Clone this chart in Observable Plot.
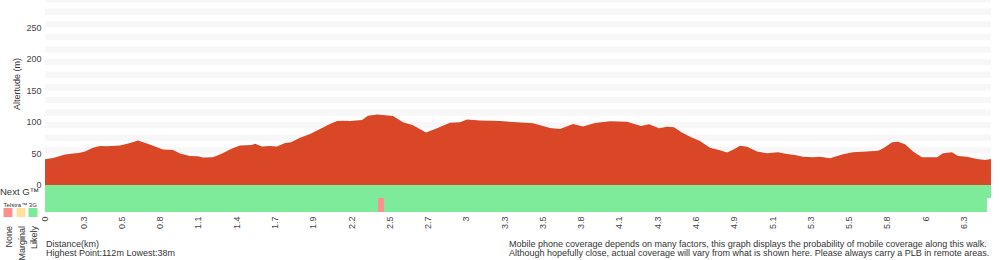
<!DOCTYPE html>
<html><head><meta charset="utf-8">
<script src="https://cdn.jsdelivr.net/npm/d3@7"></script>
<script src="https://cdn.jsdelivr.net/npm/@observablehq/plot@0.6"></script>
<style>
body{margin:0;background:#fff;}
#chart{width:1000px;height:260px;overflow:hidden}
</style></head><body><div id="chart"></div>
<script>
// Elevation profile (km, m)
const distKm = [0,0.055,0.138,0.242,0.277,0.332,0.381,0.429,0.519,0.589,0.644,0.706,0.762,0.817,0.886,0.935,1.004,1.059,1.094,1.163,1.226,1.295,1.350,1.433,1.454,1.502,1.558,1.606,1.662,1.703,1.766,1.835,1.904,1.973,2.022,2.063,2.112,2.195,2.236,2.299,2.340,2.410,2.479,2.548,2.638,2.714,2.804,2.873,2.922,3.012,3.150,3.268,3.379,3.497,3.566,3.656,3.725,3.808,3.912,4.030,4.127,4.182,4.251,4.307,4.355,4.404,4.466,4.535,4.604,4.673,4.722,4.764,4.812,4.861,4.930,4.999,5.075,5.138,5.193,5.248,5.318,5.366,5.435,5.525,5.594,5.691,5.768,5.802,5.865,5.906,5.955,6.010,6.072,6.176,6.218,6.280,6.321,6.384,6.453,6.508,6.550];
const elevM = [41,43,48.5,51,53,59,62,61.5,62.5,66.5,70.5,66,61,56.5,55.5,50,46,45.5,43.5,44,50,58,62.5,63.5,65.5,61,62,61,66.5,68,75,81,89,97,101.5,102,101.5,103,110,112,111,109.5,99.5,95,83.5,90,99,99.5,104,102.5,101.5,99.5,98,90.5,89,97,93,98.5,101,100.5,93.7,96.3,90,92.6,91.5,84,76.7,70,59.2,55,51.5,56,62.4,60.8,53,50.3,52,49.2,47.6,45,44,45,42.3,48.7,52,53,54.5,58,67.7,68.7,64.6,53,44,44,50.3,52,46,45,41.3,39.7,41.3];
const totalKm = 6.55;

// X tick labels (evenly spaced along the walk)
const tickLabels = ["0","0.3","0.5","0.8","1.1","1.4","1.7","1.9","2.2","2.5","2.7","3","3.3","3.5","3.8","4.1","4.3","4.6","4.9","5.1","5.3","5.5","5.8","6","6.3"];
const tickStepKm = 0.265;
// Y ticks
const yTicks = [0,50,100,150,200,250];
// background bands (bottom of each 10 m band)
const bandFrom = [10,30,50,70,90,110,130,150,170,190,210,230,250,270,290];

// Coverage
const levels = ["None","Marginal","Likely"];
const levelColors = ["#fd8f8f","#fde19f","#7deb9a"];
const nextGFrom = [0], nextGTo = [6.55], nextGLevel = ["Likely"];
const g3From = [0,2.306,2.347], g3To = [2.306,2.347,6.522], g3Level = ["Likely","None","Likely"];

const profile = distKm.map((d,i)=>({d, e: elevM[i]}));
const bands = bandFrom.map(b=>({b}));
const rowY = {"Next G": [-20.6, 0], "3G": [-42.9, -20.6]};
const coverage = [
  ...nextGFrom.map((f,i)=>({row:"Next G", from:f, to:nextGTo[i], level:nextGLevel[i]})),
  ...g3From.map((f,i)=>({row:"3G", from:f, to:g3To[i], level:g3Level[i]}))
];
const tickPos = tickLabels.map((_,i)=>+(i*tickStepKm).toFixed(4));
const labelAt = new Map(tickPos.map((p,i)=>[p,tickLabels[i]]));
const colorOf = new Map(levels.map((l,i)=>[l,levelColors[i]]));

const font = "'Liberation Sans', Arial, sans-serif";
const chart = Plot.plot({
  width: 1000, height: 260,
  marginLeft: 45, marginRight: 9, marginTop: 0, marginBottom: 48,
  style: {fontFamily: font, fontSize: "9px", color: "#333", background: "#fff"},
  x: {domain: [0, totalKm]},
  y: {domain: [-42.9, 293.7]},
  marks: [
    Plot.rect(bands, {x1: 0, x2: totalKm, y1: "b", y2: d=>d.b+10, fill: "#f7f7f7", clip: true}),
    Plot.areaY(profile, {x: "d", y: "e", fill: "#d94727"}),
    Plot.rect(coverage, {x1: "from", x2: "to", y1: d=>rowY[d.row][0], y2: d=>rowY[d.row][1], fill: d=>colorOf.get(d.level)}),
    Plot.axisY({ticks: yTicks, tickSize: 0, tickPadding: 4, label: null, fill: "#444"}),
    Plot.axisX({ticks: tickPos, tickFormat: d=>labelAt.get(+d.toFixed(4)), tickSize: 0, tickPadding: 4, tickRotate: -90, label: null, fill: "#444"})
  ]
});
document.getElementById("chart").appendChild(chart);

const svg = d3.select(chart);
const g = svg.append("g").attr("font-family", font).attr("fill", "#333").attr("text-anchor","start");
g.append("text").attr("transform","translate(20,84) rotate(-90)").attr("text-anchor","middle").attr("font-size",9).text("Altertude (m)");
g.append("text").attr("x",0).attr("y",195).attr("font-size",9.5).text("Next G™");
g.append("text").attr("x",3.5).attr("y",207).attr("font-size",6).text("Telstra™ 3G");
const lx = [3.5,16.5,28.5];
levels.forEach((l,i)=>{
  g.append("rect").attr("x",lx[i]).attr("y",208).attr("width",9).attr("height",9).attr("fill",levelColors[i]);
  g.append("text").attr("transform",`translate(${lx[i]+8.5},226) rotate(-90)`).attr("text-anchor","end").attr("font-size",9).text(l);
});
g.append("text").attr("x",46).attr("y",247).attr("font-size",9).text("Distance(km)");
g.append("text").attr("x",46).attr("y",255.5).attr("font-size",9).text("Highest Point:112m Lowest:38m");
g.append("text").attr("x",509).attr("y",247).attr("font-size",9).text("Mobile phone coverage depends on many factors, this graph displays the probability of mobile coverage along this walk.");
g.append("text").attr("x",509).attr("y",255.5).attr("font-size",9).text("Although hopefully close, actual coverage will vary from what is shown here. Please always carry a PLB in remote areas.");
</script></body></html>
